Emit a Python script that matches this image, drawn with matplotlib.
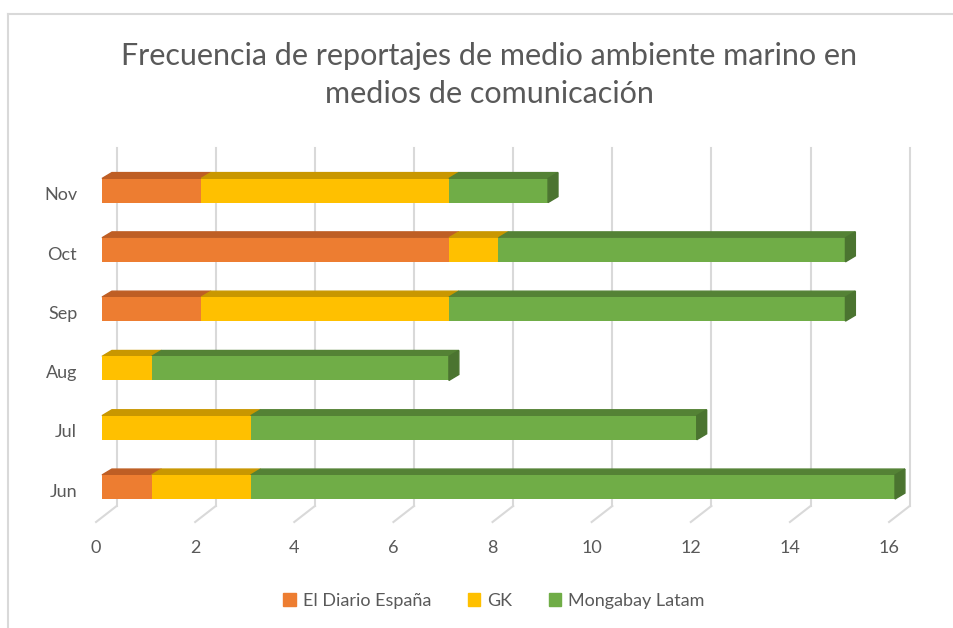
import matplotlib.pyplot as plt
from matplotlib.patches import Polygon, Patch
from matplotlib.lines import Line2D

# data
months = ["Jun", "Jul", "Aug", "Sep", "Oct", "Nov"]
el_diario = [1, 0, 0, 2, 7, 2]
gk = [2, 3, 1, 5, 1, 5]
mongabay = [13, 9, 6, 8, 7, 2]
ticks = [0, 2, 4, 6, 8, 10, 12, 14, 16]

series = [("El Diario España", el_diario, "#ED7D31", "#BE5E24", "#A4501E"),
          ("GK", gk, "#FFC000", "#C99700", "#B08400"),
          ("Mongabay Latam", mongabay, "#70AD47", "#548235", "#4B7430")]

plt.rcParams['font.family'] = ['Lato', 'DejaVu Sans']
grey = "#595959"
grid_c = "#D9D9D9"

fig = plt.figure(figsize=(9.54, 6.28), dpi=100)
# axes: front x=0 at px 102, x=16 at px 895; y from px 522 (bottom) to 148 (top)
ax = fig.add_axes([102 / 954, (628 - 522) / 628, 793 / 954, 374 / 628])
ax.set_xlim(0, 16)
ax.set_ylim(-0.59, 5.717)
ax.axis("off")

h = 0.405      # bar front face height
dx, dy = 0.2, 0.1   # bar depth
gx, gy = 0.296, -0.32  # back wall offset

# gridlines on back wall plus diagonal floor ticks
for v in ticks:
    ax.plot([v + gx, v + gx], [gy, 5.717], color=grid_c, lw=1.5, zorder=1, clip_on=False)
    ax.plot([v + gx, v - 0.12], [gy, -0.59], color=grid_c, lw=1.5, zorder=1, clip_on=False)
    ax.text(v - 0.12, -1.03, str(v), ha="center", va="center", fontsize=13,
            color=grey, clip_on=False)

ys = list(range(len(months)))
lefts = [0] * len(months)
for name, vals, c, ctop, cside in series:
    ax.barh(ys, vals, left=lefts, height=h, color=c, zorder=3)
    for y, l, w in zip(ys, lefts, vals):
        if w == 0:
            continue
        t = y + h / 2
        ax.add_patch(Polygon([(l, t), (l + w, t), (l + w + dx, t + dy), (l + dx, t + dy)],
                             closed=True, color=ctop, zorder=2, clip_on=False))
    lefts = [a + b for a, b in zip(lefts, vals)]

# right side face at the end of each bar
last_side = {}
for name, vals, c, ctop, cside in series:
    for i, w in enumerate(vals):
        if w > 0:
            last_side[i] = cside
for y, tot in zip(ys, lefts):
    b, t = y - h / 2, y + h / 2
    ax.add_patch(Polygon([(tot, b), (tot, t), (tot + dx, t + dy), (tot + dx, b + dy)],
                         closed=True, color=last_side[y], zorder=4, clip_on=False))

for y, m in zip(ys, months):
    ax.text(-0.5, y - 0.08, m, ha="right", va="center", fontsize=13, color=grey,
            clip_on=False)

fig.text(489 / 954, 1 - 75 / 628,
         "Frecuencia de reportajes de medio ambiente marino en\nmedios de comunicación",
         ha="center", va="center", fontsize=22, color=grey, linespacing=1.4)

handles = [Patch(color=c, label=n) for n, v, c, a, b in series]
fig.legend(handles=handles, loc="center", bbox_to_anchor=(494 / 954, 1 - 601 / 628),
           ncol=3, frameon=False, fontsize=13, labelcolor=grey, handlelength=0.7,
           handleheight=0.7, handletextpad=0.4, columnspacing=2.0)

# chart border (top and left edges visible)
fig.add_artist(Line2D([8 / 954, 1], [1 - 14 / 628, 1 - 14 / 628], transform=fig.transFigure,
                      color=grid_c, lw=1.5))
fig.add_artist(Line2D([8 / 954, 8 / 954], [0, 1 - 14 / 628], transform=fig.transFigure,
                      color=grid_c, lw=1.5))

fig.savefig("out.png", dpi=100)
